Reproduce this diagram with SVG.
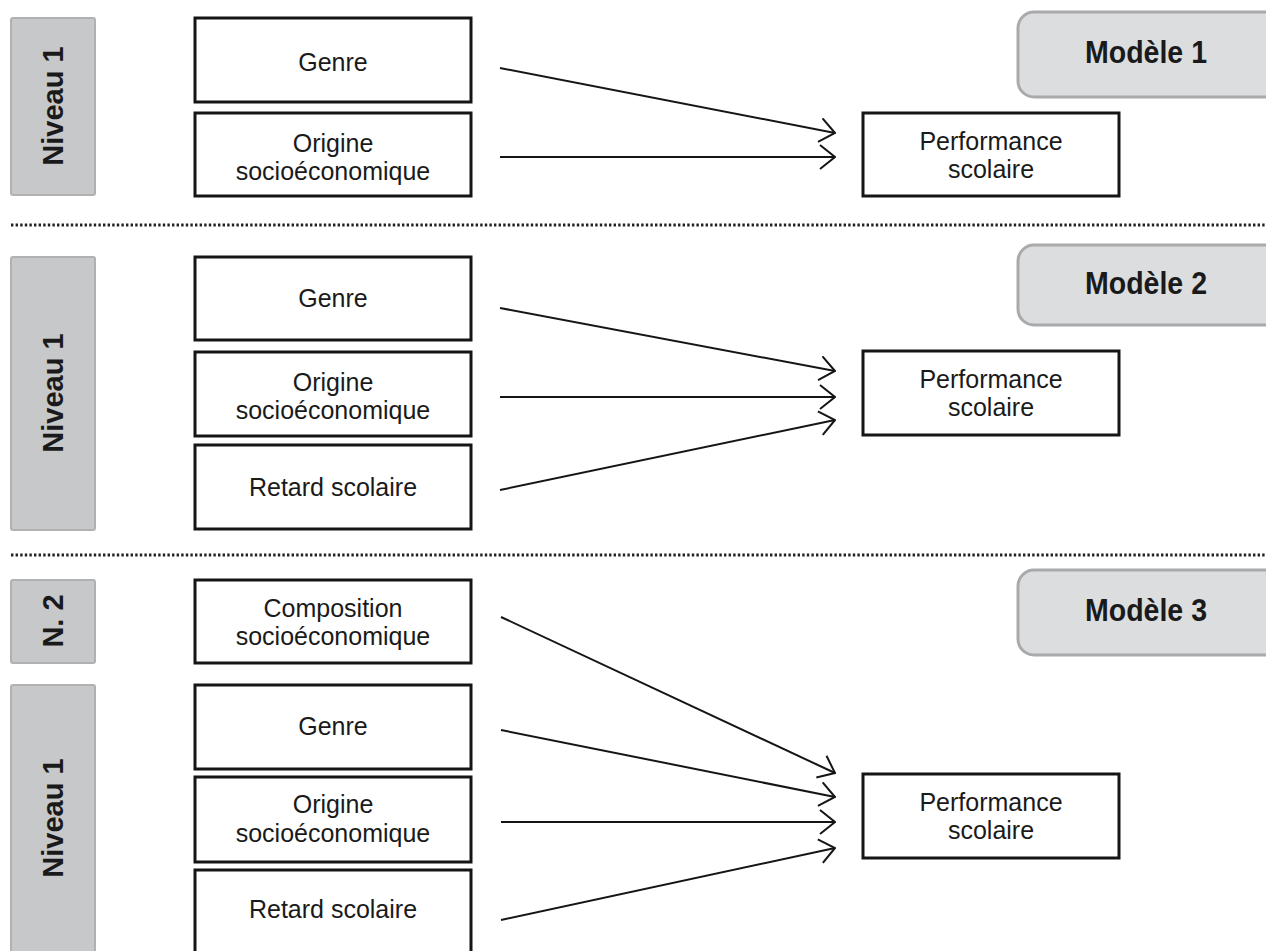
<svg xmlns="http://www.w3.org/2000/svg" width="1266" height="951" viewBox="0 0 1266 951">
<style>
.box{fill:#fff;stroke:#151515;stroke-width:3}
.lvl{fill:#c7c8ca;stroke:#b0b1b3;stroke-width:2}
.mod{fill:#dcdddf;stroke:#a9aaac;stroke-width:3}
.t{font-family:"Liberation Sans",Arial,sans-serif;font-size:25px;fill:#1a1a1a;text-anchor:middle}
.lt{font-family:"Liberation Sans",Arial,sans-serif;font-size:29px;font-weight:bold;fill:#1a1a1a;text-anchor:middle}
.mt{font-family:"Liberation Sans",Arial,sans-serif;font-size:31px;font-weight:bold;fill:#1a1a1a;text-anchor:middle}
.con{stroke:#151515;stroke-width:2;fill:none;marker-end:url(#arr)}
.sep{stroke:#222;stroke-width:3;stroke-dasharray:2.4 2.2}
</style>
<defs>
<marker id="arr" viewBox="0 0 17 26" refX="16" refY="13" markerWidth="17" markerHeight="26" markerUnits="userSpaceOnUse" orient="auto">
<path d="M1,1 L16,13 L1,25" fill="none" stroke="#151515" stroke-width="2"/>
</marker>
</defs>
<rect width="1266" height="951" fill="#fff"/>

<g id="separators">
<line class="sep" x1="11" y1="225" x2="1266" y2="225"/>
<line class="sep" x1="11" y1="555" x2="1266" y2="555"/>
</g>

<!-- Section 1 -->
<g id="m1-niveau1"><rect class="lvl" x="11" y="18" width="84" height="177" rx="2"/><text class="lt" transform="translate(63,106) rotate(-90)">Niveau 1</text></g>
<g id="m1-genre"><rect class="box" x="195" y="18" width="276" height="84"/><text class="t" x="333" y="71">Genre</text></g>
<g id="m1-origine"><rect class="box" x="195" y="113" width="276" height="83"/><text class="t" x="333" y="152">Origine</text><text class="t" x="333" y="180">socioéconomique</text></g>
<g id="m1-perf"><rect class="box" x="863" y="113" width="256" height="83"/><text class="t" x="991" y="150">Performance</text><text class="t" x="991" y="178">scolaire</text></g>
<g id="m1-label"><rect class="mod" x="1018" y="12" width="270" height="85" rx="16"/><text class="mt" x="1146" y="63" textLength="122" lengthAdjust="spacingAndGlyphs">Modèle 1</text></g>

<!-- Section 2 -->
<g id="m2-niveau1"><rect class="lvl" x="11" y="257" width="84" height="273" rx="2"/><text class="lt" transform="translate(63,393) rotate(-90)">Niveau 1</text></g>
<g id="m2-genre"><rect class="box" x="195" y="257" width="276" height="83"/><text class="t" x="333" y="307">Genre</text></g>
<g id="m2-origine"><rect class="box" x="195" y="352" width="276" height="84"/><text class="t" x="333" y="391">Origine</text><text class="t" x="333" y="419">socioéconomique</text></g>
<g id="m2-retard"><rect class="box" x="195" y="445" width="276" height="84"/><text class="t" x="333" y="496">Retard scolaire</text></g>
<g id="m2-perf"><rect class="box" x="863" y="351" width="256" height="84"/><text class="t" x="991" y="388">Performance</text><text class="t" x="991" y="416">scolaire</text></g>
<g id="m2-label"><rect class="mod" x="1018" y="245" width="270" height="80" rx="16"/><text class="mt" x="1146" y="294" textLength="122" lengthAdjust="spacingAndGlyphs">Modèle 2</text></g>

<!-- Section 3 -->
<g id="m3-n2"><rect class="lvl" x="11" y="580" width="84" height="83" rx="2"/><text class="lt" transform="translate(63,621) rotate(-90)">N. 2</text></g>
<g id="m3-composition"><rect class="box" x="195" y="580" width="276" height="83"/><text class="t" x="333" y="617">Composition</text><text class="t" x="333" y="645">socioéconomique</text></g>
<g id="m3-niveau1"><rect class="lvl" x="11" y="685" width="84" height="275" rx="2"/><text class="lt" transform="translate(63,818) rotate(-90)">Niveau 1</text></g>
<g id="m3-genre"><rect class="box" x="195" y="685" width="276" height="84"/><text class="t" x="333" y="735">Genre</text></g>
<g id="m3-origine"><rect class="box" x="195" y="777" width="276" height="85"/><text class="t" x="333" y="813">Origine</text><text class="t" x="333" y="842">socioéconomique</text></g>
<g id="m3-retard"><rect class="box" x="195" y="870" width="276" height="90"/><text class="t" x="333" y="918">Retard scolaire</text></g>
<g id="m3-perf"><rect class="box" x="863" y="774" width="256" height="84"/><text class="t" x="991" y="811">Performance</text><text class="t" x="991" y="839">scolaire</text></g>
<g id="m3-label"><rect class="mod" x="1018" y="570" width="270" height="85" rx="16"/><text class="mt" x="1146" y="621" textLength="122" lengthAdjust="spacingAndGlyphs">Modèle 3</text></g>

<g id="connectors">
<line class="con" x1="500" y1="68" x2="835" y2="133"/>
<line class="con" x1="500" y1="157" x2="835" y2="157"/>
<line class="con" x1="500" y1="308" x2="835" y2="371"/>
<line class="con" x1="500" y1="397" x2="835" y2="397"/>
<line class="con" x1="500" y1="490" x2="835" y2="420"/>
<line class="con" x1="501" y1="617" x2="835" y2="773"/>
<line class="con" x1="501" y1="730" x2="835" y2="797"/>
<line class="con" x1="501" y1="822" x2="835" y2="822"/>
<line class="con" x1="501" y1="920" x2="835" y2="848"/>
</g>
</svg>
